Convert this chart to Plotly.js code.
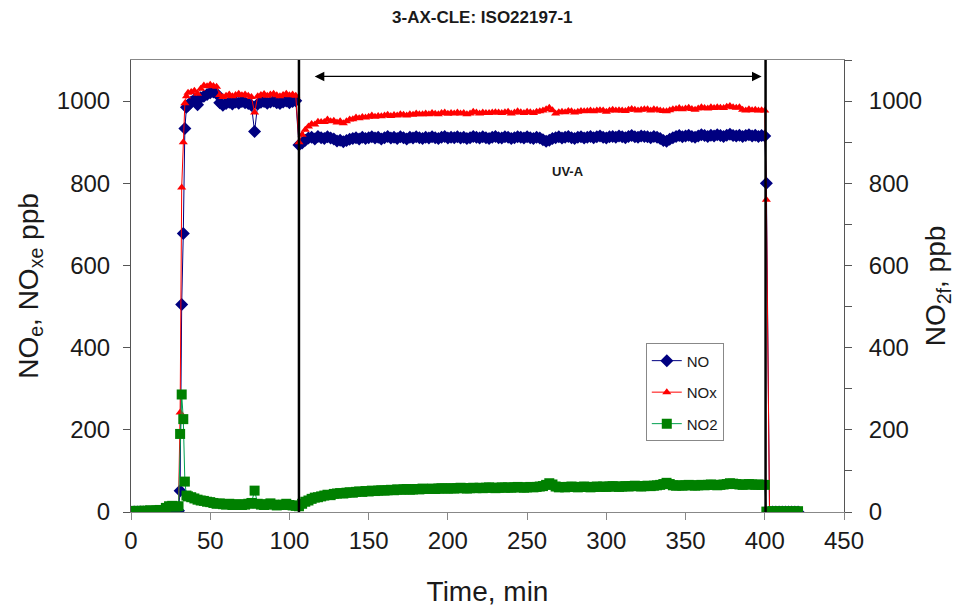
<!DOCTYPE html>
<html><head><meta charset="utf-8">
<script src="https://cdn.plot.ly/plotly-3.0.1.min.js"></script>
<style>html,body{margin:0;padding:0;background:#fff}#chart{width:955px;height:607px}</style>
</head><body><div id="chart"></div>
<script>
// ---- Data (time in minutes, concentrations in ppb) ----
const timeA = [0,2,4,6,8,10,12,14,16,18,20,22,24,26,28,30];
const noA   = [0,0,0,0,0,0,0,0,0,0,0,1,2,1,2,3];
const noxA  = [0,1,0,1,1,0,1,1,2,1,2,11,16,16,15,17];
const no2A  = [2,2,3,2,3,3,4,3,4,5,4,10,14,15,13,14];

const timeB = [31,32,33,34,35];
const noB   = [52,505,678,933,985];
const noxB  = [242,790,900,995,1012];
const no2B  = [190,286,226,74,40];

const timeC = [36,38,40,42,44,46,48,50,52,54,56,58,60,62,64,66,68,70,72,74,76,78,80,82,84,86,88,90,92,94,96,98,100,102,104];
const noC   = [990,998,1003,991,1008,1012,1016,1020,1022,1018, 996,990,994,997,993,998,995,999,996,994, 990,926,993,997,999,995,998,1000,996,994, 998,1000,996,999,1001];
const noxC  = [1020,1022,1025,1018,1030,1038,1036,1040,1037,1035, 1015,1010,1013,1016,1012,1015,1018,1014,1016,1013, 1010,972,1012,1015,1017,1013,1016,1018,1014,1012, 1015,1018,1014,1016,1013];
const no2C  = [38,36,33,30,28,27,25,24,22,20, 21,19,18,20,17,18,19,17,18,20, 22,52,20,18,17,19,21,18,16,17, 18,20,17,16,15];

const timeD = [106,108,110,112,114,116,118,120,122,124,
  126,128,130,132,134,136,138,140,142,144,
  146,148,150,152,154,156,158,160,162,164,
  166,168,170,172,174,176,178,180,182,184,
  186,188,190,192,194,196,198,200,202,204,
  206,208,210,212,214,216,218,220,222,224,
  226,228,230,232,234,236,238,240,242,244,
  246,248,250,252,254,256,258,260,262,264,
  266,268,270,272,274,276,278,280,282,284,
  286,288,290,292,294,296,298,300,302,304,
  306,308,310,312,314,316,318,320,322,324,
  326,328,330,332,334,336,338,340,342,344,
  346,348,350,352,354,356,358,360,362,364,
  366,368,370,372,374,376,378,380,382,384,
  386,388,390,392,394,396,398,400];
const noD = [893,898,905,910,912,908,914,911,909,913,
  910,908,903,905,901,904,907,909,911,908,
  912,909,911,913,910,912,908,911,914,910,
  912,909,913,911,908,912,910,913,911,909,
  912,910,913,911,909,912,914,910,912,911,
  913,910,912,909,911,914,912,910,913,911,
  909,912,914,911,910,913,912,909,911,913,
  912,910,913,911,909,912,910,906,902,905,
  909,911,913,910,912,914,911,909,912,913,
  910,912,914,911,913,915,912,910,913,914,
  912,915,913,911,914,916,913,912,915,914,
  913,911,914,912,909,904,902,907,911,914,
  916,913,915,917,914,912,915,918,916,914,
  917,915,918,916,914,917,919,916,915,917,
  914,916,918,915,917,914,916,915];
const noxD = [900,918,930,938,944,943,950,949,949,955,
  951,952,948,951,946,951,955,956,960,958,
  961,960,962,965,962,964,963,965,967,964,
  966,965,968,967,965,968,967,970,968,968,
  970,968,971,969,968,971,972,969,971,970,
  972,970,971,968,970,974,972,970,972,971,
  971,972,973,972,971,973,974,970,972,975,
  973,971,974,973,971,974,975,977,980,984,
  978,970,973,974,973,976,975,972,974,976,
  975,976,977,975,977,978,977,974,977,979,
  977,978,977,976,979,981,979,977,979,980,
  980,977,980,979,977,976,975,978,980,981,
  983,980,982,984,981,979,982,985,983,982,
  985,983,985,984,983,986,988,985,984,985,
  979,977,980,978,979,977,978,977];
const no2D = [14,20,25,28,32,35,36,38,40,42,
  41,44,45,46,45,47,48,47,49,50,
  49,51,50,52,51,52,53,52,53,54,
  53,55,54,55,56,54,55,56,55,57,
  56,56,57,56,57,58,57,57,58,57,
  58,59,58,57,58,59,58,59,58,59,
  60,59,58,59,60,59,60,59,60,61,
  60,59,60,61,60,61,62,63,66,70,
  67,62,60,61,60,61,62,61,60,61,
  62,61,60,61,62,61,62,61,62,63,
  62,61,62,63,62,63,64,63,62,63,
  64,63,64,65,66,68,71,68,65,64,
  65,64,65,66,65,64,65,66,65,66,
  67,66,65,66,67,68,70,69,68,67,
  66,67,68,67,66,67,66,66];

const timeE = [401,403,405,407,409,411,413,415,417,419,421];
const noE   = [800,0,0,0,0,0,0,0,0,0,0];
const noxE  = [760,0,0,0,0,0,0,0,0,0,0];
const no2E  = [1,1,2,1,2,1,2,1,2,1,2];

const xTicks = [0,50,100,150,200,250,300,350,400,450];
const yTicks = [0,200,400,600,800,1000];
const uvStart = 106, uvEnd = 400.5;

const time = timeA.concat(timeB, timeC, timeD, timeE);
const no   = noA.concat(noB, noC, noD, noE);
const nox  = noxA.concat(noxB, noxC, noxD, noxE);
const no2  = no2A.concat(no2B, no2C, no2D, no2E);

const traces = [
  {x: time, y: no, name: 'NO', type: 'scatter', mode: 'lines+markers', legendgroup: 'g1',
   line: {color: '#000080', width: 1}, marker: {symbol: 'diamond', size: 10, color: '#000080'}},
  {x: time, y: nox, name: 'NOx', type: 'scatter', mode: 'lines+markers', legendgroup: 'g2',
   line: {color: '#ff0000', width: 1}, marker: {symbol: 'triangle-up', size: 8, color: '#ff0000'}},
  {x: time, y: no2, name: 'NO2', type: 'scatter', mode: 'lines+markers', legendgroup: 'g3', yaxis: 'y2',
   line: {color: '#00a050', width: 1}, marker: {symbol: 'square', size: 10, color: '#008000'}}
];

const layout = {
  width: 955, height: 607,
  margin: {l: 131, r: 111, t: 60, b: 95},
  paper_bgcolor: '#ffffff', plot_bgcolor: '#ffffff',
  font: {family: 'Arial, "Liberation Sans", sans-serif', color: '#1a1a1a'},
  title: {text: '<b>3-AX-CLE: ISO22197-1</b>', font: {size: 17, color: '#1a1a1a'},
          x: 0.505, xref: 'container', xanchor: 'center', y: 0.972, yref: 'container', yanchor: 'middle'},
  showlegend: true,
  legend: {x: 0.722, y: 0.373, xanchor: 'left', yanchor: 'top', bgcolor: '#ffffff',
           bordercolor: '#888888', borderwidth: 1, font: {size: 15, color: '#1a1a1a'},
           tracegroupgap: 9, itemwidth: 30},
  xaxis: {range: [0, 450], tickvals: xTicks, ticks: 'outside', ticklen: 7, tickcolor: '#888',
          linecolor: '#888', linewidth: 1, mirror: true, showgrid: false, zeroline: false,
          tickfont: {size: 24}, title: {text: 'Time, min', font: {size: 28}, standoff: 30}},
  yaxis: {range: [0, 1100], tickvals: yTicks, ticks: 'outside', ticklen: 7, tickcolor: '#555',
          linecolor: '#555', linewidth: 1, showgrid: false, zeroline: false, ticklabelstandoff: 8,
          tickfont: {size: 24}, title: {text: 'NO<sub>e</sub>, NO<sub>xe</sub> ppb', font: {size: 28}, standoff: 10}},
  yaxis2: {range: [0, 1100], overlaying: 'y', side: 'right', tickvals: yTicks, ticks: 'outside', ticklen: 7,
           tickcolor: '#555', minor: {dtick: 100, ticks: 'outside', ticklen: 7, tickcolor: '#555'},
           linecolor: '#555', linewidth: 1, showgrid: false, zeroline: false, ticklabelstandoff: 12,
           tickfont: {size: 24}, title: {text: 'NO<sub>2f</sub>, ppb', font: {size: 28}, standoff: 4}},
  shapes: [
    {type: 'line', xref: 'x', yref: 'paper', x0: uvStart, x1: uvStart, y0: 0, y1: 1, line: {color: '#000', width: 2.5}},
    {type: 'line', xref: 'x', yref: 'paper', x0: uvEnd, x1: uvEnd, y0: 0, y1: 1, line: {color: '#000', width: 2.5}}
  ],
  annotations: [
    {x: 398, y: 1060, ax: 115, ay: 1060, xref: 'x', yref: 'y', axref: 'x', ayref: 'y', text: '',
     showarrow: true, arrowhead: 2, arrowside: 'end+start', arrowsize: 1.6, arrowwidth: 1.2, arrowcolor: '#000'},
    {x: 276, y: 828, xref: 'x', yref: 'y', text: '<b>UV-A</b>', showarrow: false, font: {size: 13, color: '#1a1a1a'}}
  ]
};

Plotly.newPlot('chart', traces, layout, {displayModeBar: false, staticPlot: true});
</script>
</body></html>
